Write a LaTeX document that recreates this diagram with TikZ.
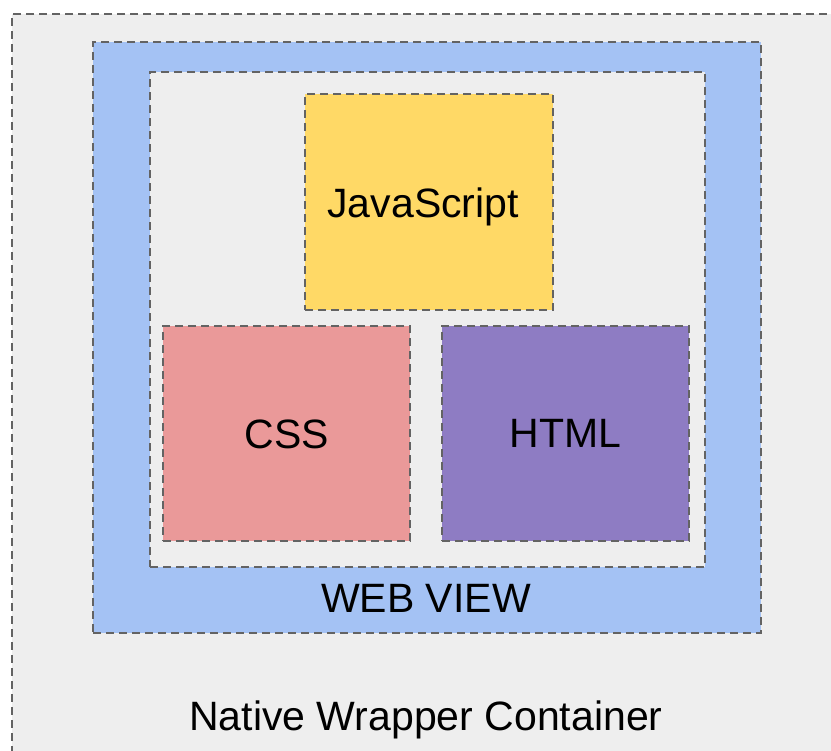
\documentclass[tikz,border=0pt]{standalone}
\usepackage{fontspec}
\setmainfont{Liberation Sans}
\definecolor{wrapgray}{HTML}{EEEEEE}
\definecolor{viewblue}{HTML}{A4C2F4}
\definecolor{jsyellow}{HTML}{FFD966}
\definecolor{cssred}{HTML}{EA9999}
\definecolor{htmlpurple}{HTML}{8E7CC3}
\definecolor{dashgray}{HTML}{636363}

\begin{document}
\begin{tikzpicture}
  [x=1pt,y=-1pt,every node/.style={font=\fontsize{41}{49}\selectfont,inner sep=0pt}]
  \tikzstyle{layer} = [draw=dashgray,line width=2.4pt,dash pattern=on 8pt off 5pt,
                       rectangle,anchor=north west,text depth=0pt]
  \useasboundingbox (0,0) rectangle (831,751);
  \clip (0,0) rectangle (831,751);

  \node[layer,fill=wrapgray,minimum width=840pt,minimum height=760pt] (wrapper) at (11,13) {};
  \node[layer,fill=viewblue,minimum width=668pt,minimum height=591pt] (webview) at (92,41) {};
  \node[layer,fill=wrapgray,minimum width=555pt,minimum height=495pt] (page) at (149,71) {};

  \node[layer,fill=jsyellow,minimum width=248pt,minimum height=216pt] (js) at (304,93) {JavaScript\kern12pt};
  \node[layer,fill=cssred,minimum width=247pt,minimum height=215pt] (css) at (162,325) {CSS};
  \node[layer,fill=htmlpurple,minimum width=247pt,minimum height=215pt] (html) at (441,325) {HTML};

  \node[anchor=base] (viewlabel) at (426,612) {WEB VIEW};
  \node[anchor=base] (wraplabel) at (426,730) {Native Wrapper Container};
\end{tikzpicture}
\end{document}
